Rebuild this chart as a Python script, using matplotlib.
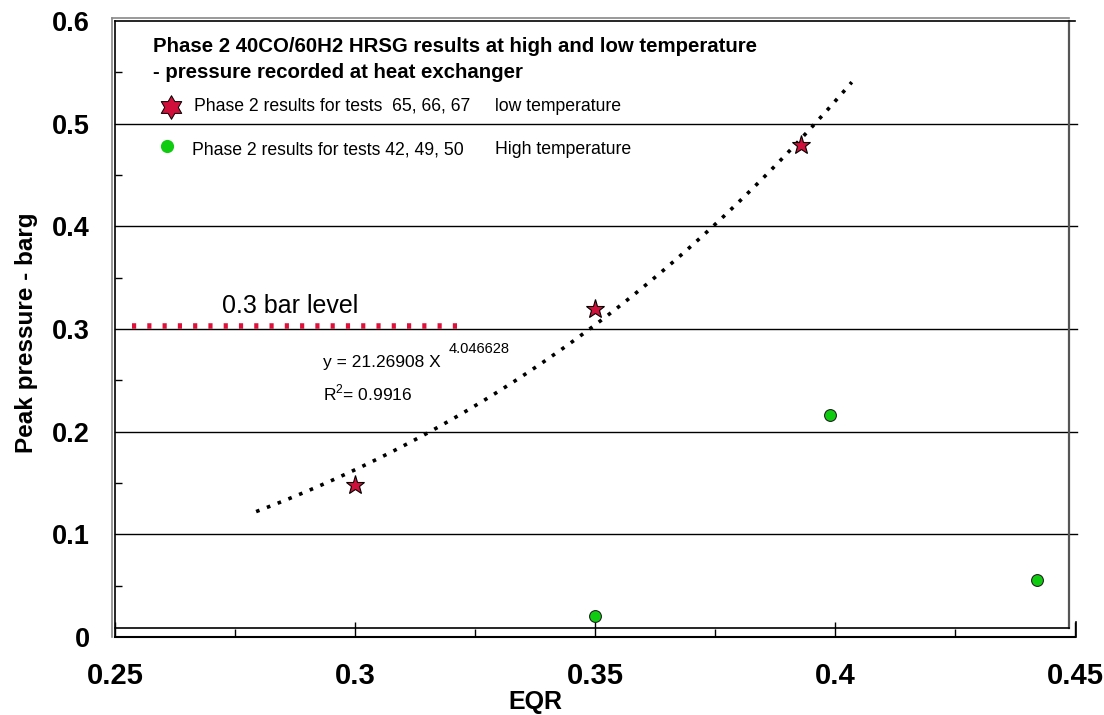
import numpy as np
import matplotlib.pyplot as plt
from matplotlib.ticker import MultipleLocator, FormatStrFormatter
from matplotlib import transforms
from matplotlib.path import Path

plt.rcParams['font.family'] = ['Liberation Sans', 'DejaVu Sans']
plt.rcParams['mathtext.fontset'] = 'custom'
plt.rcParams['mathtext.rm'] = 'Liberation Sans'

# low temperature tests 65, 66, 67
eqr_low = [0.300, 0.350, 0.393]
p_low = [0.148, 0.319, 0.479]

# high temperature tests 42, 49, 50
eqr_high = [0.350, 0.399, 0.442]
p_high = [0.020, 0.216, 0.0555]

# power law fit y = a * x^b
fit_a = 21.26908
fit_b = 4.046628
fit_r2 = 0.9916
fit_range = [0.2794, 0.4035]

bar_level = 0.3
bar_range = [0.2535, 0.3223]

star_red = '#D0103A'
dot_green = '#10CC10'

# six pointed star for the legend symbol
ang = np.pi / 2 + np.arange(12) * np.pi / 6
rad = np.where(np.arange(12) % 2 == 0, 1.0, 0.577)
hex_verts = np.column_stack([rad * np.cos(ang), rad * np.sin(ang)])
hexagram = Path(np.vstack([hex_verts, hex_verts[:1]]), closed=True)

fig = plt.figure(figsize=(11.04, 7.15), dpi=100)
ax = fig.add_axes([115/1104, 78/715, 960/1104, 616/715])
ax.set_xlim(0.25, 0.45)
ax.set_ylim(0, 0.6)

# frame: black spines plus a grey outer line
ax.spines['right'].set_visible(False)
ax.spines['top'].set_linewidth(1.2)
ax.spines['left'].set_linewidth(1.2)
ax.spines['bottom'].set_linewidth(1.5)
T = ax.transAxes
ax.plot([-0.0031, -0.0031], [0.0, 1.0049], color='#888888', lw=1.2, transform=T, clip_on=False)
ax.plot([-0.0031, 0.99375], [1.0049, 1.0049], color='#888888', lw=1.2, transform=T, clip_on=False)
ax.plot([0.99375, 0.99375], [0.0146, 1.0], color='#555555', lw=1.6, transform=T, clip_on=False)
ax.plot([0.0, 0.99375], [0.0146, 0.0146], color='black', lw=1.2, transform=T, clip_on=False)
ax.plot([1.0008, 1.0008], [0.0, 0.025], color='black', lw=1.2, transform=T, clip_on=False)

# horizontal grid
for g in np.arange(0.1, 0.55, 0.1):
    ax.axhline(g, xmin=0, xmax=1.002, color='black', lw=1.0, clip_on=False, zorder=1)

ax.xaxis.set_major_locator(MultipleLocator(0.05))
ax.xaxis.set_minor_locator(MultipleLocator(0.025))
ax.yaxis.set_major_locator(MultipleLocator(0.1))
ax.yaxis.set_minor_locator(MultipleLocator(0.05))
ax.xaxis.set_major_formatter(FormatStrFormatter('%g'))
ax.yaxis.set_major_formatter(FormatStrFormatter('%g'))

ax.tick_params(axis='x', which='major', direction='in', length=10.8, width=1.0,
               pad=18, labelsize=21)
ax.tick_params(axis='x', which='minor', direction='in', length=5.8, width=1.0)
ax.tick_params(axis='y', which='major', direction='in', length=0, pad=18, labelsize=19.5)
ax.tick_params(axis='y', which='minor', direction='in', length=5, width=1.0)
for lab in ax.get_xticklabels() + ax.get_yticklabels():
    lab.set_fontweight('bold')

# trend line
xf = np.linspace(fit_range[0], fit_range[1], 200)
yf = fit_a * xf ** fit_b
ax.plot(xf, yf, color='black', lw=2.6, linestyle=(0, (1.0, 2.2)), zorder=3)

# 0.3 bar level
up = transforms.offset_copy(ax.transData, fig=fig, y=3, units='dots')
ax.plot(bar_range, [bar_level, bar_level], color='#E0103A', lw=4,
        linestyle=(0, (0.75, 2.0)), transform=up, zorder=3, solid_capstyle='butt')
ax.text(0.2865, 0.3224, '0.3 bar level', fontsize=18, ha='center', va='center')

# fit equation
ax.text(0.2933, 0.2669, 'y = %.5f X' % fit_a, fontsize=12.5, va='center')
ax.text(0.3196, 0.2805, '%.6f' % fit_b, fontsize=10.5, va='center')
ax.text(0.2933, 0.2377, r'R$^\mathregular{2}$= %.4f' % fit_r2, fontsize=12.5, va='center')

# data points
ax.plot(eqr_low, p_low, linestyle='none', marker='*', markersize=14,
        markerfacecolor=star_red, markeredgecolor='black', markeredgewidth=0.8, zorder=4)
ax.plot(eqr_high, p_high, linestyle='none', marker='o', markersize=8.5,
        markerfacecolor=dot_green, markeredgecolor='#222222', markeredgewidth=0.8, zorder=4)

# legend block
ax.text(0.0396, 0.958, 'Phase 2 40CO/60H2 HRSG results at high and low temperature',
        transform=T, fontsize=14.7, fontweight='bold', va='center')
ax.text(0.0396, 0.9156, '- pressure recorded at heat exchanger',
        transform=T, fontsize=14.7, fontweight='bold', va='center')
ax.plot([0.0583], [0.8604], marker=hexagram, markersize=17, color=star_red,
        markeredgecolor='black', markeredgewidth=0.7, transform=T, clip_on=False)
ax.text(0.0823, 0.862, 'Phase 2 results for tests  65, 66, 67', transform=T,
        fontsize=12.7, va='center')
ax.text(0.396, 0.862, 'low temperature', transform=T, fontsize=12.7, va='center')
ax.plot([0.0542], [0.797], marker='o', markersize=9.5, color=dot_green,
        markeredgewidth=0, transform=T, clip_on=False)
ax.text(0.0802, 0.7906, 'Phase 2 results for tests 42, 49, 50', transform=T,
        fontsize=12.7, va='center')
ax.text(0.396, 0.7906, 'High temperature', transform=T, fontsize=12.7, va='center')

fig.text(27/1104, 1 - 333/715, 'Peak pressure - barg', rotation=90, fontsize=17.5,
         fontweight='bold', ha='center', va='center')
fig.text(535/1104, 1 - 702/715, 'EQR', fontsize=18, fontweight='bold',
         ha='center', va='center')

fig.savefig('out.png', dpi=100)
